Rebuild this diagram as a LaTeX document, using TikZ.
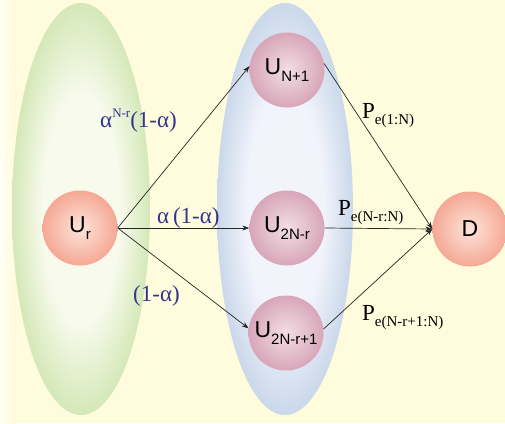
\documentclass[tikz,border=0pt]{standalone}
\usepackage{fontspec}
\setmainfont{Liberation Serif}
\newfontfamily\arialfont{Liberation Sans}
\usepackage{xcolor}
\usetikzlibrary{arrows.meta}

\definecolor{bgyellow}{RGB}{255,252,221}
\definecolor{labelblue}{RGB}{52,52,140}
\definecolor{greenedge}{RGB}{212,232,184}
\definecolor{greencore}{RGB}{248,250,236}
\definecolor{blueedge}{RGB}{202,216,234}
\definecolor{bluecore}{RGB}{242,244,252}
\definecolor{pinkout}{RGB}{216,166,184}
\definecolor{pinkin}{RGB}{242,222,230}
\definecolor{salmonout}{RGB}{245,168,148}
\definecolor{salmonin}{RGB}{253,228,218}

\pgfdeclareradialshading{greenglow}{\pgfpoint{0bp}{0bp}}{%
  color(0bp)=(greencore); color(14bp)=(greencore); color(25bp)=(greenedge); color(50bp)=(greenedge)}
\pgfdeclareradialshading{blueglow}{\pgfpoint{0bp}{0bp}}{%
  color(0bp)=(bluecore); color(14bp)=(bluecore); color(25bp)=(blueedge); color(50bp)=(blueedge)}

% subscript / superscript in the nodes and labels
\newcommand{\nsub}[1]{\raisebox{-7pt}{\fontsize{15}{15}\selectfont #1}}
\newcommand{\psub}[1]{\raisebox{-6pt}{\fontsize{15}{15}\selectfont #1}}
\newcommand{\asup}[1]{\raisebox{10pt}{\fontsize{13}{13}\selectfont #1}}

\begin{document}
\begin{tikzpicture}[x=1pt,y=-1pt,
  relay/.style={circle, minimum size=75pt, inner sep=0pt, inner color=pinkin, outer color=pinkout,
    font=\arialfont\fontsize{23}{23}\selectfont},
  endnode/.style={relay, inner color=salmonin, outer color=salmonout},
  link/.style={draw=black!85, line width=0.7pt, -{Stealth[length=7pt,width=5pt]}},
  problab/.style={inner sep=0pt, anchor=base west, text=labelblue, font=\fontsize{23}{23}\selectfont},
  errlab/.style={problab, text=black}]

\useasboundingbox (0,0) rectangle (505,423);
\fill[bgyellow] (0,0) rectangle (505,423);
\shade[left color=white!70!bgyellow, right color=bgyellow] (0,0) rectangle (14,423);

% groups
\shade[shading=greenglow] (81,209) ellipse [x radius=69pt, y radius=206pt];
\shade[shading=blueglow] (285,209) ellipse [x radius=68pt, y radius=206pt];

% nodes
\node[endnode] (Ur) at (80,228) {U\nsub{r}};
\node[relay] (Un1) at (287,70) {U\nsub{N+1}};
\node[relay] (U2n) at (287,228) {U\nsub{2N-r}};
\node[relay] (U2n1) at (286,333) {U\nsub{2N-r+1}};
\node[endnode] (D) at (470,229) {D};

% links
\draw[link] (Ur.east) -- (Un1.174);
\draw[link] (Ur.east) -- (U2n.west);
\draw[link] (Ur.east) -- (U2n1.173);
\draw[link] (Un1.10) -- (D.west);
\draw[link] (U2n.east) -- (D.west);
\draw[link] (U2n1.6) -- (D.west);

% labels
\node[problab] (l1) at (100,127) {α\asup{N-r}(1-α)};
\node[problab] (l2) at (157,223) {α\,(1-α)};
\node[problab] (l3) at (133,301) {(1-α)};
\node[errlab] (p1) at (362,118) {P\psub{e(1:N)}};
\node[errlab] (p2) at (338,215) {P\psub{e(N-r:N)}};
\node[errlab] (p3) at (362,320) {P\psub{e(N-r+1:N)}};
\end{tikzpicture}
\end{document}
